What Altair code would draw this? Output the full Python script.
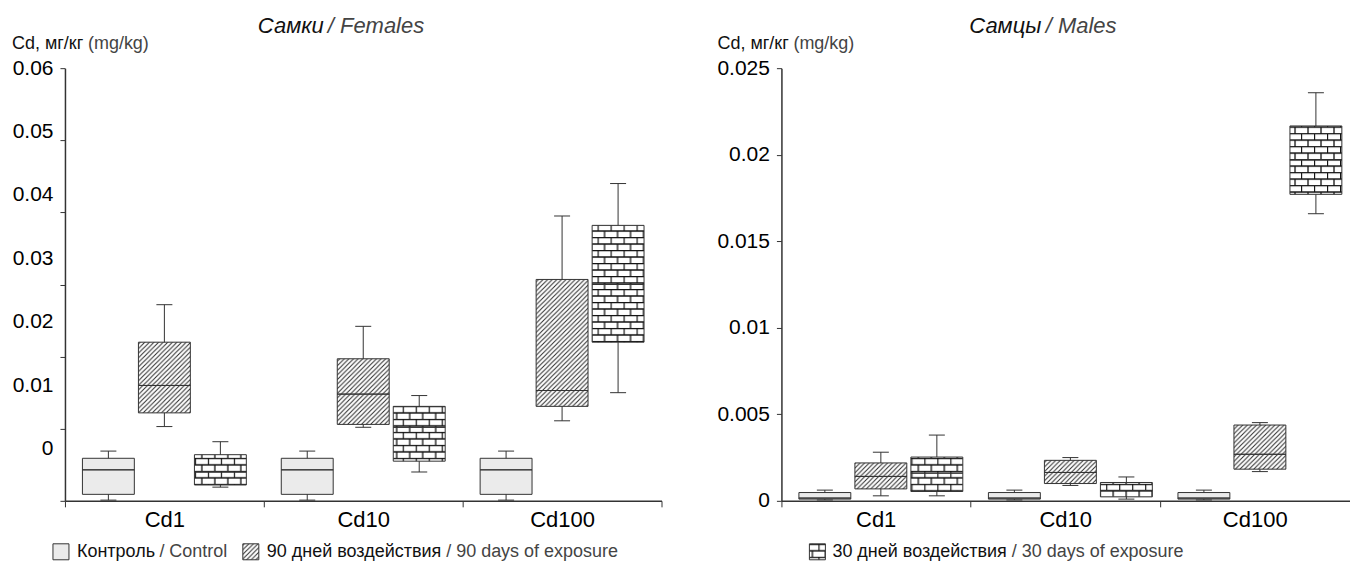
import altair as alt
import pandas as pd

# ---------------- data ----------------
categories = ["Cd1", "Cd10", "Cd100"]
groups = ["control", "d90", "d30"]
legend_ru = ["Контроль", "90 дней воздействия", "30 дней воздействия"]
legend_en = ["/ Control", "/ 90 days of exposure", "/ 30 days of exposure"]

# Females (order per category: control, 90 days, 30 days)
f_lo  = [0.0001, 0.0103, 0.0019,  0.0001, 0.0102, 0.0040,  0.0001, 0.0111, 0.0150]
f_q1  = [0.0009, 0.0122, 0.0022,  0.0009, 0.0106, 0.0055,  0.0009, 0.0131, 0.0220]
f_med = [0.0043, 0.0160, 0.0040,  0.0043, 0.0148, 0.0102,  0.0043, 0.0153, 0.0300]
f_q3  = [0.0059, 0.0220, 0.0064,  0.0059, 0.0197, 0.0131,  0.0059, 0.0307, 0.0382]
f_hi  = [0.0069, 0.0272, 0.0082,  0.0069, 0.0242, 0.0146,  0.0069, 0.0395, 0.0440]

# Males
m_lo  = [0.00005, 0.00029, 0.00029, 0.00005, 0.00089, 0.00010, 0.00005, 0.00169, 0.01659]
m_q1  = [0.00010, 0.00069, 0.00054, 0.00010, 0.00100, 0.00023, 0.00010, 0.00183, 0.01771]
m_med = [0.00016, 0.00141, 0.00160, 0.00016, 0.00164, 0.00060, 0.00016, 0.00269, 0.01970]
m_q3  = [0.00048, 0.00219, 0.00253, 0.00048, 0.00234, 0.00106, 0.00048, 0.00438, 0.02166]
m_hi  = [0.00062, 0.00281, 0.00380, 0.00062, 0.00250, 0.00138, 0.00062, 0.00452, 0.02358]

f_ticks = [0, 0.01, 0.02, 0.03, 0.04, 0.05, 0.06]
m_ticks = [0, 0.005, 0.01, 0.015, 0.02, 0.025]

STROKE = "#333333"
GRAY = "#444444"
FILLS = ["#ebebeb", "url(#hatch)", "url(#brick)"]


def make_df(lo, q1, med, q3, hi):
    cats = [c for c in categories for _ in groups]
    grps = groups * len(categories)
    return pd.DataFrame({"cat": cats, "grp": grps, "lo": lo, "q1": q1,
                         "med": med, "q3": q3, "hi": hi})


def txt(s, x, y, size, color, style="normal"):
    d = pd.DataFrame({"t": [s]})
    return alt.Chart(d).mark_text(align="left", baseline="middle", fontSize=size,
                                  fontStyle=style, color=color).encode(
        text="t:N", x=alt.value(x), y=alt.value(y))


def panel(df, ydomain, yvalues, w, h, t_ru, t_en, title_x, title_gap, ytitle_x,
          pad_outer, end_tick=True, label_offset=None):
    axis_kw = dict(labelAngle=0, labelFontSize=22, labelColor="black", labelPadding=3,
                   tickSize=6, tickColor=STROKE, tickWidth=1, domainColor=STROKE,
                   domainWidth=1.5, grid=False)
    if end_tick:
        axis_kw["tickBand"] = "extent"
    else:
        axis_kw["bandPosition"] = 0
    xenc = alt.X("cat:N", sort=categories, title=None,
                 scale=alt.Scale(paddingInner=0, paddingOuter=0),
                 axis=alt.Axis(**axis_kw))
    xoff = alt.XOffset("grp:N", sort=groups,
                       scale=alt.Scale(paddingInner=0.073, paddingOuter=pad_outer))
    yscale = alt.Scale(domain=ydomain, nice=False, zero=False)
    ykw = dict(values=yvalues, format="~g", title=None, grid=False, tickSize=5,
               tickColor=STROKE, tickWidth=1, domainColor=STROKE, domainWidth=1.5,
               labelFontSize=21, labelColor="black", labelPadding=7)
    if label_offset:
        ykw["labelOffset"] = alt.ExprRef(expr=label_offset)
    base = alt.Chart(df).encode(x=xenc, xOffset=xoff)
    whisk = base.mark_rule(color=STROKE, strokeWidth=1).encode(
        y=alt.Y("lo:Q", scale=yscale, axis=alt.Axis(**ykw)), y2="hi:Q")
    box = base.mark_bar(stroke=STROKE, strokeWidth=1).encode(
        y="q1:Q", y2="q3:Q",
        fill=alt.Fill("grp:N", scale=alt.Scale(domain=groups, range=FILLS), legend=None))
    med = base.mark_bar(stroke=STROKE, strokeWidth=1, fillOpacity=0).encode(
        y="med:Q", y2="med:Q")
    cap_lo = base.mark_tick(color=STROKE, size=16, thickness=1, opacity=1).encode(y="lo:Q")
    cap_hi = base.mark_tick(color=STROKE, size=16, thickness=1, opacity=1).encode(y="hi:Q")
    layers = [whisk, box, med, cap_lo, cap_hi,
              txt(t_ru, title_x, -42, 22, "#111111", "italic"),
              txt(t_en, title_x + title_gap, -42, 22, GRAY, "italic"),
              txt("Cd, мг/кг", ytitle_x, -24, 18, "#111111"),
              txt("(mg/kg)", ytitle_x + 76, -24, 18, GRAY)]
    return alt.layer(*layers).properties(width=w, height=h)


left = panel(make_df(f_lo, f_q1, f_med, f_q3, f_hi), [0, 0.06], f_ticks, 597, 433,
             "Самки", "/ Females", 193, 70, -53, 0.312,
             label_offset="(datum.value - 0.06) * 874")
right = panel(make_df(m_lo, m_q1, m_med, m_q3, m_hi), [0, 0.025], m_ticks, 569, 433,
              "Самцы", "/ Males", 188, 76.5, -64, 0.265, end_tick=False)

# legend row (positions relative to the left plot's origin)
sym_x = [-12, 178, 745]
txt_x = [12, 202, 768]
gap_x = [82.5, 179.5, 179.5]
leg_layers = []
one = pd.DataFrame({"k": [0]})
for i in range(3):
    leg_layers.append(alt.Chart(one).mark_rect(stroke=STROKE, strokeWidth=1).encode(
        x=alt.value(sym_x[i]), x2=alt.value(sym_x[i] + 16),
        y=alt.value(0), y2=alt.value(16), fill=alt.value(FILLS[i])))
    leg_layers.append(txt(legend_ru[i], txt_x[i], 8, 18, "#111111"))
    leg_layers.append(txt(legend_en[i], txt_x[i] + gap_x[i], 8, 18, GRAY))
legend = alt.layer(*leg_layers).properties(width=1250, height=16)

chart = alt.vconcat(
    alt.hconcat(left, right, spacing=54),
    legend, spacing=12
).properties(padding={"left": 4, "top": 7, "right": 0, "bottom": 0}).configure(
    font="Liberation Sans").configure_view(strokeWidth=0)

PATTERN_DEFS = """
<svg width="0" height="0" style="position:absolute;left:0;top:0" aria-hidden="true">
<defs>
<pattern id="hatch" patternUnits="userSpaceOnUse" width="4.6" height="4.6">
<rect width="4.6" height="4.6" fill="white"/>
<path d="M-1,1 l2,-2 M0,4.6 l4.6,-4.6 M3.6,5.6 l2,-2" stroke="#2a2a2a" stroke-width="1"/>
</pattern>
<pattern id="brick" patternUnits="userSpaceOnUse" width="13" height="13">
<rect width="13" height="13" fill="white"/>
<path d="M0,0.5 H13 M0,7 H13 M0.5,0.5 V7 M7,7 V13" stroke="#111" stroke-width="1.3"/>
</pattern>
</defs>
</svg>
"""

try:
    import altair.utils.html as _ah
    _std = _ah.TEMPLATES["standard"]

    class _PatternTemplate:
        def render(self, *args, **kwargs):
            html = _std.render(*args, **kwargs)
            if "<body>" in html:
                return html.replace("<body>", "<body>\n" + PATTERN_DEFS, 1)
            return PATTERN_DEFS + html

    _ah.TEMPLATES["standard"] = _PatternTemplate()
except Exception:
    pass

chart.save("out.html", embed_options={"renderer": "svg", "actions": False})
